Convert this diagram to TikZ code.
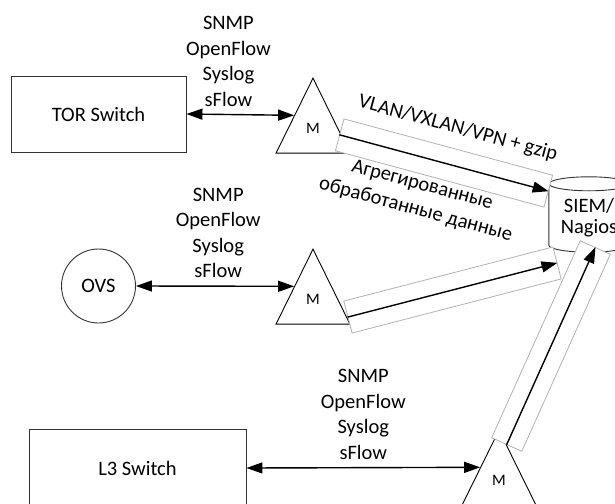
\documentclass[tikz,border=0pt]{standalone}
\usepackage{fontspec}
\setmainfont{Carlito}
\usetikzlibrary{shapes.geometric,arrows.meta,positioning,calc}

\tikzset{
  txt/.style={font=\fontsize{20.5}{25.5}\selectfont},
  dev/.style={draw=black!80, line width=0.9pt, txt},
  mon/.style={draw, line width=0.9pt, isosceles triangle, isosceles triangle stretches,
    shape border rotate=90, minimum width=74pt, minimum height=75pt, inner sep=0pt},
  chan/.style={draw=black!30, line width=0.8pt, fill=white, minimum width=216pt,
    minimum height=33pt, inner sep=0pt},
  flow/.style={-{Triangle[length=16pt,width=11pt]}, line width=1.4pt},
  dual/.style={{Triangle[length=16pt,width=11pt]}-{Triangle[length=16pt,width=11pt]}, line width=1.4pt},
  proto/.style={txt, align=center, above=4pt},
  db/.style={draw=black!80, line width=0.9pt}
}

\begin{document}
\begin{tikzpicture}[x=1pt,y=1pt]
  \useasboundingbox (0,0) rectangle (615,-503);
  \clip (0,0) rectangle (615,-503);
  \node[dev, minimum width=175pt, minimum height=76pt] (tor) at (98.5,-114) {TOR Switch};
  \node[dev, circle, minimum size=74pt] (ovs) at (98.5,-286) {OVS};
  \node[dev, minimum width=217pt, minimum height=78pt] (l3) at (137.5,-468) {L3 Switch};
  \node[mon, anchor=apex] (m1) at (313,-77) {};
  \node[mon, anchor=apex] (m2) at (313,-248) {};
  \node[mon, anchor=apex] (m3) at (499,-429) {};
  \foreach \m in {m1,m2,m3}
    \node[font=\fontsize{16}{16}\selectfont] (\m l) at ($(\m.apex)!0.667!(\m.lower side)$) {M};
  % SIEM cylinder
  \node[txt, minimum width=80pt, minimum height=68pt, inner sep=0pt, align=center,
    font=\fontsize{20.5}{21}\selectfont] (siem) at (589,-218) {SIEM/\\Nagios};
  \draw[db] (siem.north) ellipse [x radius=40, y radius=7];
  \draw[db] (siem.north west) -- ($(siem.south west)+(0,7)$)
    arc[start angle=180, end angle=360, x radius=40, y radius=7] -- (siem.north east);
  \draw[dual] (tor.east) -- node[proto, pos=0.39] (p1) {SNMP\\OpenFlow\\Syslog\\sFlow} (m1.left side);
  \draw[dual] (ovs.east) -- node[proto, pos=0.52] (p2) {SNMP\\OpenFlow\\Syslog\\sFlow} (m2.left side);
  \draw[dual] (l3.east) -- node[proto, pos=0.5] (p3) {SNMP\\OpenFlow\\Syslog\\sFlow} (m3.left side);
  \node[chan, rotate=-15.1] (c1) at (444,-163) {};
  \node[chan, rotate=14.5] (c2) at (452.5,-290) {};
  \node[chan, rotate=65.8] (c3) at (551,-346) {};
  \draw[flow] (c1.west) -- node[txt, sloped, pos=0.52, above=24pt] (enc) {VLAN/VXLAN/VPN + gzip}
    node[txt, sloped, pos=0.43, below=15pt, align=center] (agg) {Агрегированные\\обработанные данные} (c1.east);
  \draw[flow] (c2.west) -- (c2.east);
  \draw[flow] (c3.west) -- (c3.east);
\end{tikzpicture}
\end{document}
